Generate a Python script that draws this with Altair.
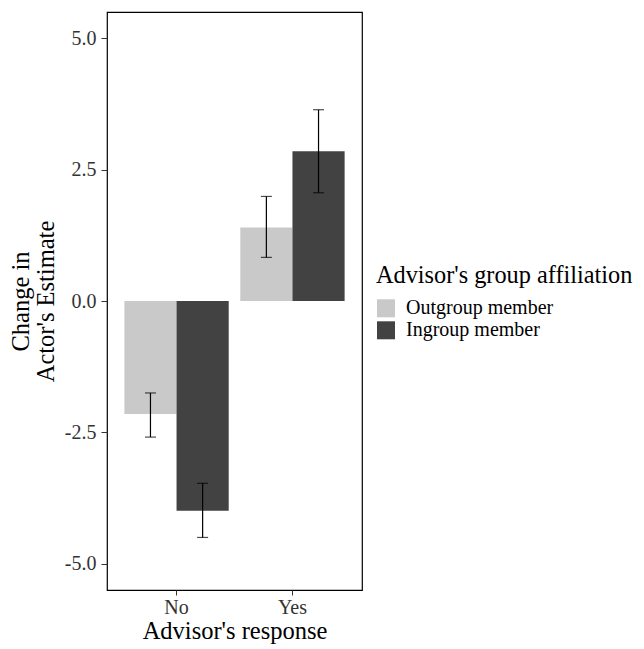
import altair as alt
import pandas as pd

response = ["No", "No", "Yes", "Yes"]
group = ["Outgroup member", "Ingroup member", "Outgroup member", "Ingroup member"]
means = [-2.15, -3.99, 1.40, 2.85]
lower = [-2.59, -4.50, 0.83, 2.06]
upper = [-1.75, -3.47, 1.99, 3.64]

groups_order = ["Outgroup member", "Ingroup member"]
colors = ["#c9c9c9", "#424242"]
y_ticks = [-5.0, -2.5, 0.0, 2.5, 5.0]

df = pd.DataFrame({"response": response, "group": group, "mean": means,
                   "lower": lower, "upper": upper})

FONT = "Liberation Serif"

x = alt.X("response:N", title="Advisor's response",
          scale=alt.Scale(paddingInner=0.1, paddingOuter=0.15),
          axis=alt.Axis(labelAngle=0, labelFontSize=20, titleFontSize=24.5,
                        labelColor="#333333", titleColor="black",
                        tickColor="#333333", tickSize=5, domain=False,
                        labelPadding=2, titlePadding=2))
xoff = alt.XOffset("group:N", sort=groups_order,
                   scale=alt.Scale(paddingInner=0, paddingOuter=0))
y = alt.Y("mean:Q", title=["Change in", "Actor's Estimate"],
          scale=alt.Scale(domain=[-5.5, 5.5], nice=False, zero=False),
          axis=alt.Axis(values=y_ticks,
                        labelExpr="(datum.value < 0 ? '-' : '') + format(abs(datum.value), '.1f')",
                        labelFontSize=20,
                        titleFontSize=24.5, titleLineHeight=25,
                        labelColor="#333333", titleColor="black",
                        tickColor="#333333", tickSize=6, domain=False, grid=False,
                        labelPadding=5, titlePadding=6))

base = alt.Chart(df)

bars = base.mark_bar().encode(
    x=x, xOffset=xoff, y=y,
    y2=alt.datum(0),
    color=alt.Color("group:N", sort=groups_order,
                    scale=alt.Scale(domain=groups_order, range=colors),
                    legend=alt.Legend(title="Advisor's group affiliation",
                                      orient="none", legendX=269, legendY=252,
                                      titleFontSize=24.3, labelFontSize=20,
                                      titleLimit=400, labelLimit=300,
                                      symbolType="square", symbolSize=324,
                                      symbolStrokeWidth=0, titleColor="black",
                                      labelColor="black", labelOffset=10,
                                      rowPadding=2, titlePadding=10)),
)

rules = base.mark_rule(color="black", strokeWidth=1.2).encode(
    x=x, xOffset=xoff, y="lower:Q", y2="upper:Q")
caps_lo = base.mark_tick(color="black", thickness=1.2, size=11).encode(
    x=x, xOffset=xoff, y="lower:Q")
caps_hi = base.mark_tick(color="black", thickness=1.2, size=11).encode(
    x=x, xOffset=xoff, y="upper:Q")

chart = alt.layer(bars, rules, caps_lo, caps_hi).properties(
    width=255, height=578,
    autosize=alt.AutoSizeParams(type="none"),
    padding={"left": 99, "top": 4, "right": 274, "bottom": 55}
).configure(font=FONT).configure_view(
    stroke="black", strokeWidth=1.2
).configure_axis(labelFont=FONT, titleFont=FONT, titleFontWeight="normal"
).configure_legend(labelFont=FONT, titleFont=FONT, titleFontWeight="normal")

chart.save("out.html", embed_options={"renderer": "svg", "actions": False})
